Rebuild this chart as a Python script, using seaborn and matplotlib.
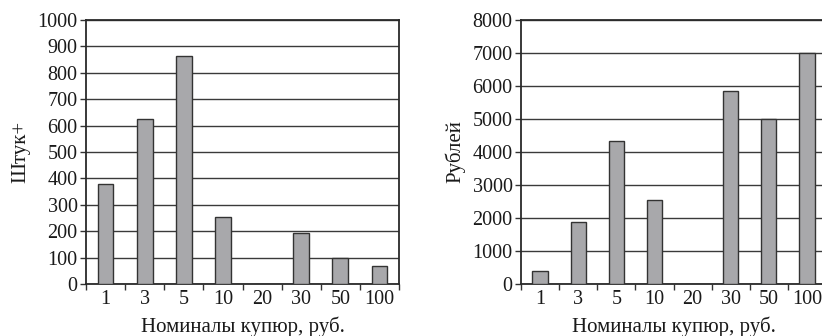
import matplotlib
matplotlib.use("Agg")
import matplotlib.pyplot as plt
import seaborn as sns
import pandas as pd
import numpy as np

denoms = ["1", "3", "5", "10", "20", "30", "50", "100"]
counts = [380, 625, 865, 255, 0, 195, 100, 70]
rubles = [380, 1875, 4325, 2550, 0, 5850, 5000, 7000]

sns.set_theme(style="white")
plt.rcParams['font.family'] = ['Liberation Serif', 'DejaVu Serif']

df = pd.DataFrame({"denom": denoms, "counts": counts, "rubles": rubles})

fig = plt.figure(figsize=(8.22, 3.36), dpi=100)
ax1 = fig.add_axes([86/822, 1-284/336, (399-86)/822, (284-20)/336])
ax2 = fig.add_axes([521/822, 1-284/336, (826-521)/822, (284-20)/336])

bar_color = "#a8a8ab"
edge = "#333333"

def style(ax, col, ymax, step, ylabel):
    sns.barplot(data=df, x="denom", y=col, order=denoms, ax=ax, color=bar_color,
                edgecolor=edge, linewidth=1.0, width=0.4, saturation=1, zorder=3)
    ax.set_ylim(0, ymax)
    ax.set_xlim(-0.5, len(denoms) - 0.5)
    ax.set_yticks(np.arange(0, ymax + 1, step))
    ax.yaxis.grid(True, color="#3a3a3a", linewidth=1.0, zorder=0)
    ax.set_axisbelow(True)
    ax.set_xticks(range(len(denoms)))
    ax.set_xticklabels(denoms)
    ax.set_xticks(np.arange(-0.5, len(denoms), 1), minor=True)
    ax.tick_params(axis="x", which="major", length=0, labelsize=14.5, pad=4, colors="#1a1a1a")
    ax.tick_params(axis="x", which="minor", length=4, width=1, color=edge, bottom=True)
    ax.tick_params(axis="y", which="major", length=4, width=1, color=edge, left=True,
                   labelsize=14.5, pad=2, labelcolor="#1a1a1a")
    for s in ax.spines.values():
        s.set_color("#2a2a2a")
        s.set_linewidth(1.3)
        s.set_visible(True)
    ax.set_xlabel("Номиналы купюр, руб.", fontsize=15, color="#1a1a1a", labelpad=6)
    ax.set_ylabel(ylabel, fontsize=15, color="#1a1a1a", labelpad=5)

style(ax1, "counts", 1000, 100, "Штук+")
style(ax2, "rubles", 8000, 1000, "Рублей")

fig.savefig("out.png", dpi=100)
